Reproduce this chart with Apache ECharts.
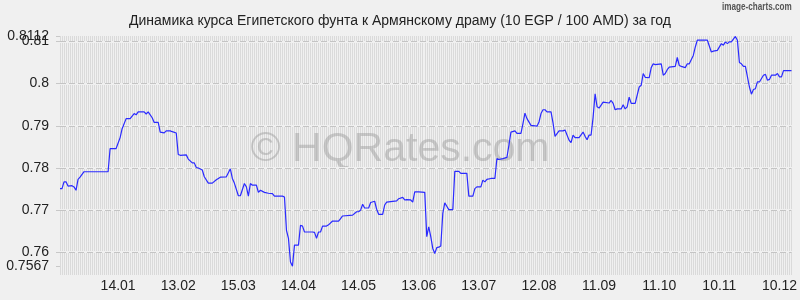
<!DOCTYPE html>
<html>
<head>
<meta charset="utf-8">
<script src="https://cdn.jsdelivr.net/npm/echarts@6/dist/echarts.min.js"></script>
<style>
html,body{margin:0;padding:0;background:#f0f0f0;}
#chart{width:800px;height:300px;}
</style>
</head>
<body>
<div id="chart"></div>
<script>
const titleText = 'Динамика курса Египетского фунта к Армянскому драму (10 EGP / 100 AMD) за год';
const startDate = Date.UTC(2013, 11, 16);
const totalDays = 365;
// day offsets from startDate
const days = [
  0,1,2,3,4,6,7,8,9,10,
  12,24,25,28,30,31,33,35,37,38,
  39,42,43,44,46,47,49,50,52,53,
  55,56,58,59,60,63,64,66,67,68,
  69,71,72,74,76,78,80,83,85,86,
  87,89,90,92,93,94,95,96,98,99,
  100,102,104,106,107,111,112,113,114,115,
  116,117,119,120,121,122,126,127,128,129,
  130,131,133,134,136,139,140,141,146,148,
  149,150,151,152,154,155,157,158,159,161,
  162,163,168,169,171,172,173,175,176,177,
  179,182,183,184,185,186,187,188,189,190,
  191,192,193,194,196,197,199,200,203,204,
  206,207,208,210,211,212,213,215,217,218,
  219,221,223,224,225,227,228,230,231,232,
  233,235,238,239,240,241,242,243,245,246,
  247,249,251,252,254,255,256,257,259,261,
  262,263,264,265,266,267,268,269,271,274,
  275,276,277,278,280,281,282,283,284,285,
  287,289,290,291,292,294,295,296,297,300,
  301,302,303,304,307,308,309,310,312,313,
  314,316,317,318,320,323,325,326,328,330,
  331,332,333,334,335,337,338,339,340,341,
  342,344,345,346,347,348,349,351,352,353,
  354,355,357,358,359,360,361,363,365
];
const rates = [
  0.7751,0.7751,0.7767,0.7767,0.7757,0.7758,0.7755,0.7747,0.7773,0.7778,
  0.7791,0.7791,0.7846,0.7846,0.7872,0.7893,0.7917,0.7917,0.7929,0.7926,
  0.7933,0.7933,0.7928,0.7933,0.7919,0.7908,0.7908,0.7885,0.7883,0.7888,
  0.7888,0.7886,0.7883,0.7832,0.7830,0.7831,0.7821,0.7812,0.7812,0.7801,
  0.7800,0.7795,0.7779,0.7764,0.7764,0.7772,0.7778,0.7779,0.7798,0.7775,
  0.7764,0.7734,0.7734,0.7763,0.7755,0.7733,0.7763,0.7759,0.7759,0.7742,
  0.7747,0.7742,0.7740,0.7739,0.7733,0.7733,0.7731,0.7652,0.7633,0.7577,
  0.7567,0.7617,0.7617,0.7664,0.7662,0.7648,0.7648,0.7647,0.7633,0.7648,
  0.7648,0.7662,0.7662,0.7665,0.7674,0.7674,0.7680,0.7686,0.7688,0.7696,
  0.7696,0.7700,0.7714,0.7705,0.7705,0.7718,0.7721,0.7702,0.7690,0.7690,
  0.7712,0.7719,0.7722,0.7727,0.7730,0.7724,0.7725,0.7724,0.7719,0.7743,
  0.7743,0.7742,0.7637,0.7660,0.7637,0.7609,0.7597,0.7611,0.7612,0.7615,
  0.7692,0.7717,0.7709,0.7701,0.7701,0.7792,0.7792,0.7787,0.7787,0.7733,
  0.7733,0.7751,0.7755,0.7755,0.7771,0.7767,0.7773,0.7775,0.7775,0.7822,
  0.7820,0.7822,0.7825,0.7854,0.7885,0.7888,0.7882,0.7882,0.7905,0.7930,
  0.7917,0.7901,0.7899,0.7909,0.7929,0.7938,0.7938,0.7933,0.7933,0.7907,
  0.7875,0.7888,0.7888,0.7890,0.7866,0.7860,0.7878,0.7872,0.7872,0.7885,
  0.7875,0.7867,0.7878,0.7878,0.7920,0.7976,0.7945,0.7942,0.7956,0.7954,
  0.7960,0.7953,0.7938,0.7940,0.7940,0.7950,0.7940,0.7945,0.7968,0.7953,
  0.7953,0.7992,0.7996,0.8024,0.8015,0.8014,0.8038,0.8047,0.8045,0.8047,
  0.8020,0.8024,0.8033,0.8039,0.8041,0.8062,0.8043,0.8041,0.8038,0.8047,
  0.8047,0.8067,0.8087,0.8103,0.8103,0.8103,0.8075,0.8077,0.8079,0.8095,
  0.8091,0.8099,0.8095,0.8099,0.8099,0.8112,0.8103,0.8050,0.8047,0.8041,
  0.8041,0.7992,0.7975,0.7986,0.7988,0.8004,0.8004,0.8020,0.8022,0.8008,
  0.8010,0.8020,0.8020,0.8024,0.8016,0.8016,0.8031,0.8031,0.8031
];
// tick labels (day offsets for x, values for y)
const xTickDays = [29,59,89,119,149,179,209,239,269,299,329,359];
const yTickValues = [0.7567,0.76,0.77,0.78,0.79,0.80,0.81];
const yTopTick = [0.8112];
const yMajorLines = [0.7567,0.76,0.77,0.78,0.79,0.80,0.81,0.8112];
const yMin = 0.7546, yMax = 0.8113;

const seriesData = days.map((d, i) => [d, rates[i]]);
const gapLines = [];
for (let k = 377; k <= 406; k++) gapLines.push({ yAxis: k * 0.002 });

function fmtDay(v) {
  const dt = new Date(startDate + v * 86400000);
  const dd = String(dt.getUTCDate()).padStart(2, '0');
  const mm = String(dt.getUTCMonth() + 1).padStart(2, '0');
  return dd + '.' + mm;
}
const fmtVal = v => String(+v.toFixed(4));

const chart = echarts.init(document.getElementById('chart'), null, { renderer: 'canvas' });
chart.setOption({
  animation: false,
  backgroundColor: '#f0f0f0',
  textStyle: { fontFamily: 'Liberation Sans, Arial, sans-serif' },
  title: {
    text: titleText, left: 'center', top: 9,
    textStyle: { fontSize: 14, fontWeight: 'normal', color: '#222', fontFamily: 'Liberation Sans, Arial, sans-serif' }
  },
  graphic: [
    { type: 'text', x: 722, y: 1, scaleX: 0.74, silent: true,
      style: { text: 'image-charts.com', fill: '#555', font: 'bold 11px "Liberation Sans", sans-serif' } },
    { type: 'text', left: 'center', top: 129, z: 1, silent: true,
      style: { text: '© HQRates.com', fill: 'rgba(150,150,150,0.45)', font: '41px "Liberation Sans", Arial, sans-serif' } }
  ],
  grid: { left: 60, right: 0, top: 36, bottom: 25, containLabel: false },
  xAxis: [
    { type: 'value', min: 0, max: totalDays,
      axisLine: { show: false }, axisTick: { show: false },
      splitLine: { show: false },
      axisLabel: { customValues: xTickDays, formatter: fmtDay, fontSize: 14, color: '#222', margin: 4 } },
    { type: 'value', min: 0, max: totalDays, interval: 1, show: true,
      axisLine: { show: false }, axisTick: { show: false }, axisLabel: { show: false },
      splitLine: { show: true, lineStyle: { color: '#dadada', width: 1 } } }
  ],
  yAxis: [
    { type: 'value', min: yMin, max: yMax, position: 'left',
      axisLine: { show: false },
      axisTick: { show: true, customValues: yTickValues, length: 4, lineStyle: { color: '#c8c8c8' } },
      splitLine: { show: false },
      axisLabel: { customValues: yTickValues, hideOverlap: false, showMaxLabel: true, showMinLabel: true,
        formatter: fmtVal, fontSize: 14, color: '#222', margin: 11 } },
    { type: 'value', min: yMin, max: yMax, position: 'left', offset: 0,
      axisLine: { show: false },
      axisTick: { show: true, customValues: yTopTick, length: 4, lineStyle: { color: '#c8c8c8' } },
      splitLine: { show: false },
      axisLabel: { customValues: yTopTick, hideOverlap: false, showMaxLabel: true,
        formatter: fmtVal, fontSize: 14, color: '#222', margin: 11 } }
  ],
  series: [
    { type: 'line', z: 1, data: seriesData, showSymbol: false, silent: true,
      lineStyle: { opacity: 0 },
      markLine: { silent: true, symbol: 'none', animation: false, label: { show: false },
        emphasis: { disabled: true },
        lineStyle: { color: '#f0f0f0', width: 2, type: 'solid' }, data: gapLines } },
    { type: 'line', z: 2, data: [], silent: true,
      markLine: { silent: true, symbol: 'none', animation: false, label: { show: false },
        emphasis: { disabled: true },
        lineStyle: { color: '#c4c4c4', width: 1, type: [6, 3] },
        data: yMajorLines.map(v => ({ yAxis: v })) } },
    { type: 'line', z: 5, data: seriesData, showSymbol: false, symbol: 'none',
      lineStyle: { color: '#2a2aff', width: 1.2 }, silent: true }
  ]
});
</script>
</body>
</html>
